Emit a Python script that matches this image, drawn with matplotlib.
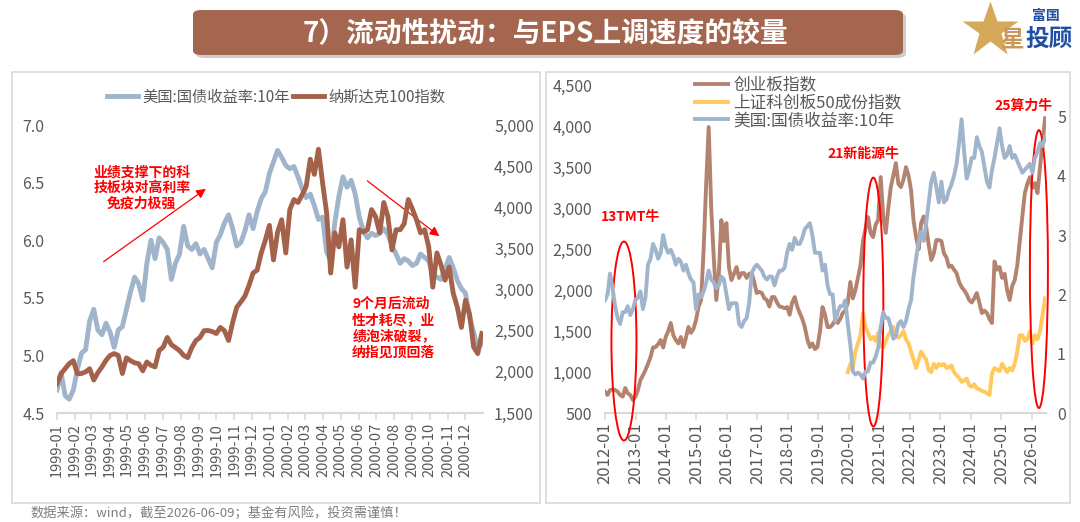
import matplotlib
matplotlib.use('Agg')
import matplotlib.pyplot as plt
import matplotlib.dates as mdates
import matplotlib.ticker as mticker
from matplotlib.patches import FancyBboxPatch, Rectangle, Ellipse
from matplotlib.lines import Line2D
import pandas as pd

plt.rcParams['font.family'] = ['Noto Sans CJK SC', 'DejaVu Sans']

# ---- left panel: 1999-2000, weekly readings ----
ust_9900 = [4.70, 4.85, 4.65, 4.62, 4.70, 4.88, 5.02, 5.05, 5.30, 5.40,
            5.22, 5.18, 5.28, 5.20, 5.07, 5.22, 5.25, 5.40, 5.55, 5.68,
            5.62, 5.48, 5.80, 6.00, 5.84, 6.02, 5.98, 5.92, 5.66, 5.80,
            5.88, 6.12, 5.95, 5.92, 5.97, 5.88, 5.92, 5.84, 5.76, 5.98,
            6.05, 6.15, 6.22, 6.10, 5.95, 5.98, 6.08, 6.22, 6.10, 6.25,
            6.36, 6.42, 6.58, 6.68, 6.78, 6.72, 6.65, 6.62, 6.64, 6.55,
            6.45, 6.37, 6.40, 6.30, 6.18, 6.20, 5.90, 5.82, 6.15, 6.38,
            6.55, 6.46, 6.52, 6.40, 6.20, 6.08, 6.02, 6.06, 6.04, 6.06,
            6.10, 6.05, 5.95, 5.88, 5.80, 5.84, 5.82, 5.78, 5.80, 5.88,
            5.85, 5.82, 5.70, 5.68, 5.66, 5.75, 5.85, 5.76, 5.65, 5.58,
            5.54, 5.33, 5.20, 5.06, 5.10]
ndx_9900 = [1854, 1977, 2040, 2100, 2136, 1977, 1980, 2000, 2038, 1900,
            1990, 2060, 2140, 2200, 2222, 2200, 1980, 2170, 2136, 2110,
            2099, 2013, 2120, 2080, 2060, 2260, 2300, 2418, 2330, 2295,
            2258, 2200, 2173, 2295, 2380, 2418, 2500, 2503, 2490, 2466,
            2540, 2500, 2381, 2600, 2785, 2850, 2920, 3050, 3201, 3237,
            3445, 3600, 3780, 3360, 3700, 3849, 3445, 3972, 4094, 4058,
            4150, 4254, 4584, 4400, 4706, 4303, 3935, 3201, 3690, 3519,
            3849, 3274, 3604, 3029, 3727, 3700, 3727, 3972, 3886, 3690,
            4058, 3886, 3482, 3727, 3727, 3800, 4094, 3980, 3849, 3690,
            3727, 3519, 3029, 3445, 3300, 3115, 3274, 2956, 2785, 2540,
            2870, 2700, 2300, 2222, 2466]
dates_9900 = pd.date_range('1999-01-01', '2000-12-29', periods=len(ust_9900))

# ---- right panel: 2012-2026, monthly readings ----
cyb = [760, 720, 780, 790, 781, 760, 720, 700, 805, 740, 720, 660,
       700, 780, 903, 960, 1025, 1100, 1184, 1300, 1306, 1340, 1391, 1300,
       1428, 1500, 1599, 1450, 1391, 1350, 1428, 1306, 1420, 1550, 1480, 1530,
       1635, 1800, 1880, 2500, 3300, 3992, 3000, 2400, 1880, 2200, 2856, 2600,
       2820, 2283, 2124, 2200, 2283, 2150, 2209, 2209, 2150, 2200, 2209, 2100,
       1965, 1980, 1965, 1900, 1880, 1800, 1916, 1916, 1850, 1800, 1794, 1780,
       1794, 1700, 1850, 1916, 1800, 1721, 1650, 1550, 1400, 1306, 1350, 1280,
       1306, 1500, 1794, 1700, 1550, 1550, 1580, 1635, 1600, 1650, 1721, 1750,
       1850, 2100, 1900, 2000, 2150, 2300, 2600, 2750, 2893, 2700, 2649, 2800,
       2856, 3381, 2900, 2700, 3000, 3259, 3400, 3552, 3300, 3259, 3350, 3503,
       3400, 3223, 2850, 2649, 2500, 2820, 2900, 2771, 2550, 2368, 2450, 2612,
       2612, 2600, 2450, 2400, 2283, 2300, 2250, 2209, 2100, 2038, 2000, 1950,
       1880, 1850, 1900, 1965, 1850, 1721, 1750, 1721, 1650, 1599, 2350, 2250,
       2283, 2150, 2200, 2000, 1880, 2050, 2124, 2300, 2600, 2900, 3186, 3300,
       3381, 3250, 3308, 3186, 3500, 3800, 4100]
ust_1226 = [1.90, 2.00, 2.35, 2.10, 1.80, 1.60, 1.50, 1.70, 1.70, 1.80, 1.65, 1.75,
            1.90, 1.95, 2.05, 1.75, 1.95, 2.50, 2.60, 2.85, 2.75, 2.60, 2.70, 3.00,
            2.80, 2.70, 2.75, 2.65, 2.50, 2.60, 2.55, 2.40, 2.50, 2.35, 2.25, 2.20,
            1.75, 2.00, 1.95, 2.05, 2.20, 2.40, 2.25, 2.20, 2.10, 2.15, 2.30, 2.25,
            2.00, 1.75, 1.85, 1.85, 1.85, 1.50, 1.45, 1.55, 1.60, 1.85, 2.35, 2.45,
            2.50, 2.45, 2.40, 2.30, 2.25, 2.30, 2.30, 2.15, 2.30, 2.40, 2.40, 2.45,
            2.70, 2.85, 2.75, 2.95, 2.85, 2.85, 2.95, 3.10, 3.15, 3.20, 3.00, 2.70,
            2.70, 2.70, 2.40, 2.50, 2.15, 2.00, 2.00, 1.55, 1.70, 1.80, 1.80, 1.90,
            1.50, 1.15, 0.70, 0.65, 0.68, 0.65, 0.58, 0.70, 0.70, 0.85, 0.85, 0.95,
            1.10, 1.45, 1.70, 1.60, 1.60, 1.45, 1.25, 1.30, 1.50, 1.55, 1.45, 1.55,
            1.75, 1.90, 2.30, 2.60, 2.90, 3.05, 2.90, 3.20, 3.55, 3.90, 4.05, 3.80,
            3.55, 3.90, 3.55, 3.60, 3.75, 3.85, 4.00, 4.20, 4.55, 4.95, 4.40, 3.95,
            4.10, 4.30, 4.30, 4.65, 4.50, 4.40, 4.15, 3.90, 3.80, 4.10, 4.30, 4.55,
            4.80, 4.50, 4.30, 4.35, 4.50, 4.30, 4.35, 4.25, 4.15, 4.05, 4.10, 4.15,
            4.20, 4.05, 4.30, 4.40, 4.55, 4.50, 4.65]
star50 = [1000, 1100, 1050, 1250, 1350, 1450, 1720, 1550, 1480, 1400, 1430, 1380,
          1480, 1320, 1300, 1380, 1450, 1500, 1550, 1450, 1420, 1450, 1500, 1400,
          1350, 1250, 1150, 1050, 1150, 1250, 1200, 1150, 1020, 1000, 1100, 1050,
          1100, 1080, 1100, 1050, 1060, 1080, 1000, 960, 930, 880, 900, 920,
          840, 820, 850, 800, 790, 770, 760, 740, 720, 980, 1050, 1030,
          1010, 1100, 1050, 1000, 1050, 1020, 1100, 1250, 1450, 1450, 1380, 1400,
          1500, 1350, 1450, 1400, 1500, 1700, 1900]
dates_1226 = pd.date_range('2012-01-01', '2026-06-09', periods=len(cyb))
dates_star = dates_1226[len(cyb) - len(star50):]

BLUE = '#A0B5CB'
BROWN = '#A4624B'
BROWN_R = '#B3836F'
YELLOW = '#FFC95E'
GRAY = '#595959'
RED = '#FF0000'

W, H = 1080, 522
fig = plt.figure(figsize=(10.8, 5.22), dpi=100)

# panel frames
for x0, w in [(12, 528), (546, 524)]:
    fig.add_artist(Rectangle((x0 / W, 19 / H), w / W, 431 / H, transform=fig.transFigure,
                             fill=False, ec='#D9D9D9', lw=1.2))

# title bar
fig.add_artist(FancyBboxPatch((196 / W, (H - 58) / H), 710 / W, 45 / H, transform=fig.transFigure,
                              boxstyle='round,pad=0,rounding_size=0.008', fc='#CDCDCD', ec='none'))
fig.add_artist(FancyBboxPatch((193 / W, (H - 55) / H), 710 / W, 45 / H, transform=fig.transFigure,
                              boxstyle='round,pad=0,rounding_size=0.008', fc='#A5664F', ec='none'))
fig.text(545 / W, 1 - 33 / H, '7）流动性扰动：与EPS上调速度的较量', color='white',
         fontsize=20, fontweight='bold', ha='center', va='center')

# logo
fig.add_artist(Line2D([990 / W], [1 - 30 / H], marker='*', ms=42, color='#D6A85A', mec='none',
                      transform=fig.transFigure))
fig.text(1012 / W, 1 - 40 / H, '星', color='#C9975A', fontsize=17, fontweight='bold', ha='center', va='center')
fig.text(1049 / W, 1 - 40 / H, '投顾', color='#1E4FA3', fontsize=17, fontweight='bold', ha='center', va='center')
fig.text(1046 / W, 1 - 16 / H, '富国', color='#1E4FA3', fontsize=10, fontweight='bold', ha='center', va='center')

# footer
fig.text(30 / W, 1 - 513 / H, '数据来源：wind，截至2026-06-09；基金有风险，投资需谨慎！',
         color='#7F7F7F', fontsize=9.5, ha='left', va='center')


def style(ax, twin, xfs):
    for a in (ax, twin):
        for s in a.spines.values():
            s.set_visible(False)
    ax.spines['bottom'].set_visible(True)
    ax.spines['bottom'].set_color('#D9D9D9')
    ax.spines['bottom'].set_linewidth(1.5)
    ax.tick_params(axis='x', colors='#D9D9D9', labelcolor=GRAY, labelsize=xfs,
                   length=5, width=1.2, rotation=90, pad=2)
    ax.tick_params(axis='y', length=0, labelcolor=GRAY, labelsize=11.5, pad=9)
    twin.tick_params(axis='y', length=0, labelcolor=GRAY, labelsize=11.5, pad=8)


# ---- left chart ----
axL = fig.add_axes([57 / W, 109 / H, 426 / W, 288 / H])
axL2 = axL.twinx()
l1, = axL.plot(dates_9900, ust_9900, color=BLUE, lw=3.5, label='美国:国债收益率:10年')
l2, = axL2.plot(dates_9900, ndx_9900, color=BROWN, lw=3.5, label='纳斯达克100指数')
axL.set_ylim(4.5, 7.0)
axL2.set_ylim(1500, 5000)
axL.set_xlim(pd.Timestamp('1999-01-01'), pd.Timestamp('2000-12-31'))
axL.set_yticks([4.5, 5.0, 5.5, 6.0, 6.5, 7.0])
axL.yaxis.set_major_formatter(mticker.FormatStrFormatter('%.1f'))
axL2.set_yticks(range(1500, 5001, 500))
axL2.yaxis.set_major_formatter(mticker.StrMethodFormatter('{x:,.0f}'))
axL.xaxis.set_major_locator(mdates.MonthLocator())
axL.xaxis.set_major_formatter(mdates.DateFormatter('%Y-%m'))
style(axL, axL2, 10.5)
axL.legend(handles=[l1, l2], loc='center', bbox_to_anchor=(0.515, 1.097), ncol=2, frameon=False,
           fontsize=11, labelcolor=GRAY, handlelength=2.0, handletextpad=0.3, columnspacing=0.2)

axL.annotate('', xy=(pd.Timestamp('1999-09-17'), 6.46), xytext=(pd.Timestamp('1999-03-18'), 5.80),
             arrowprops=dict(arrowstyle='-|>', color=RED, lw=0.9, mutation_scale=14))
axL.annotate('', xy=(pd.Timestamp('2000-10-21'), 6.02), xytext=(pd.Timestamp('2000-06-12'), 6.53),
             arrowprops=dict(arrowstyle='-|>', color=RED, lw=0.9, mutation_scale=14))
axL.text(0.199, 0.781, '业绩支撑下的科\n技板块对高利率\n免疫力极强', transform=axL.transAxes,
         color=RED, fontsize=10, fontweight='bold', ha='center', va='center', linespacing=1.15)
axL.text(0.693, 0.295, '9个月后流动\n性才耗尽，业\n绩泡沫破裂，\n纳指见顶回落', transform=axL.transAxes,
         color=RED, fontsize=10, fontweight='bold', ha='left', va='center', linespacing=1.2)

# ---- right chart ----
axR = fig.add_axes([605 / W, 109 / H, 441 / W, 327.5 / H])
axR2 = axR.twinx()
r1, = axR.plot(dates_1226, cyb, color=BROWN_R, lw=2.8, label='创业板指数')
r2, = axR.plot(dates_star, star50, color=YELLOW, lw=2.8, label='上证科创板50成份指数')
r3, = axR2.plot(dates_1226, ust_1226, color=BLUE, lw=2.8, label='美国:国债收益率:10年')
axR.set_ylim(500, 4500)
axR2.set_ylim(0, 5.52)
axR.set_xlim(pd.Timestamp('2012-01-01'), pd.Timestamp('2026-06-20'))
axR.set_yticks(range(500, 4501, 500))
axR.yaxis.set_major_formatter(mticker.StrMethodFormatter('{x:,.0f}'))
axR2.set_yticks(range(0, 6))
axR.xaxis.set_major_locator(mdates.YearLocator())
axR.xaxis.set_major_formatter(mdates.DateFormatter('%Y-%m'))
style(axR, axR2, 12)
axR.legend(handles=[r1, r2, r3], loc='center left', bbox_to_anchor=(0.204, 0.947), frameon=False,
           fontsize=12, labelcolor=GRAY, handlelength=2.0, handletextpad=0.3, labelspacing=0.05,
           borderpad=0, borderaxespad=0)

# bull-market marks
for c, w_days, yc, h in [('2012-08-15', 300, 1379, 2430),
                         ('2020-10-20', 240, 1855, 3040),
                         ('2026-03-27', 216, 2258, 3394)]:
    axR2.add_patch(Ellipse((mdates.date2num(pd.Timestamp(c)), yc), w_days, h, transform=axR.transData,
                           fill=False, ec=RED, lw=1.4, clip_on=False))
axR2.set_ylim(0, 5.52)
axR2.text(0.057, 0.598, '13TMT牛', transform=axR.transAxes, color=RED, fontsize=10,
          fontweight='bold', ha='center', va='center')
axR2.text(0.587, 0.791, '21新能源牛', transform=axR.transAxes, color=RED, fontsize=10,
          fontweight='bold', ha='center', va='center')
axR2.text(0.948, 0.937, '25算力牛', transform=axR.transAxes, color=RED, fontsize=10,
          fontweight='bold', ha='center', va='center')

fig.savefig('out.png', dpi=100)
